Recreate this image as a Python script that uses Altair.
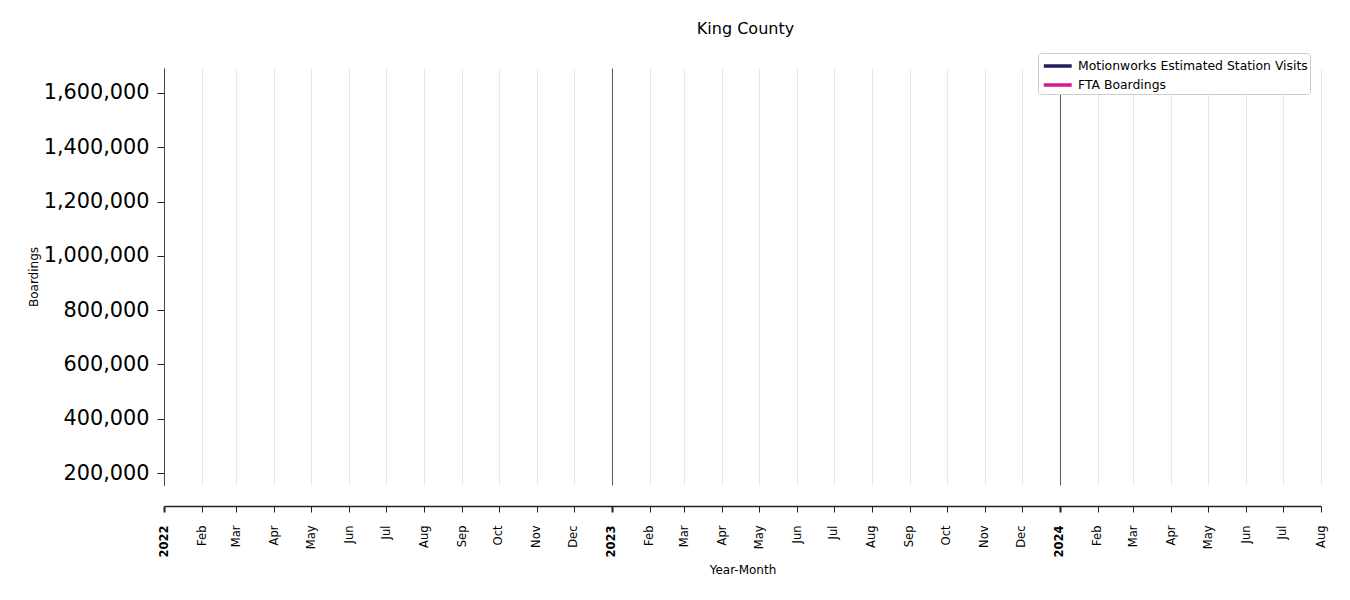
import altair as alt
import pandas as pd

# --- data (no series values are visible in the reference) ---
series_names = ["Motionworks Estimated Station Visits", "FTA Boardings"]
series_colors = ["#1f1f5c", "#d6188a"]
dates = []            # no plotted points visible
motionworks_visits = []
fta_boardings = []

tick_months = [(2022, m) for m in range(1, 13)] + [(2023, m) for m in range(1, 13)] + [(2024, m) for m in range(1, 9)]
y_ticks = [200000, 400000, 600000, 800000, 1000000, 1200000, 1400000, 1600000]
y_domain = [156000, 1692000]

df = pd.DataFrame({
    "date": list(dates) + list(dates),
    "value": list(motionworks_visits) + list(fta_boardings),
    "series": [series_names[0]] * len(dates) + [series_names[1]] * len(dates),
})

font = "DejaVu Sans"
is_year = "utcmonth(datum.value) == 0"

x_axis = alt.Axis(
    values=[alt.DateTime(year=y, month=m, date=1, utc=True) for y, m in tick_months],
    labelExpr="utcmonth(datum.value) == 0 ? utcFormat(datum.value, '%Y') : utcFormat(datum.value, '%b')",
    labelAngle=270,
    labelFontSize=11.5,
    labelFont=font,
    labelColor="black",
    labelPadding=13,
    labelFontWeight={"condition": {"test": is_year, "value": "bold"}, "value": "normal"},
    tickWidth={"condition": {"test": is_year, "value": 2}, "value": 1},
    tickColor="#222",
    tickSize=6,
    domainColor="#222",
    domainWidth=1.5,
    offset=21,
    grid=True,
    gridColor={"condition": {"test": is_year, "value": "#555555"}, "value": "#e8e8e8"},
    gridWidth=1,
    title="Year-Month",
    titleFont=font,
    titleFontSize=12,
    titleFontWeight="normal",
    titleColor="black",
    titlePadding=7,
)

y_axis = alt.Axis(
    values=y_ticks,
    format=",d",
    labelFontSize=20.8,
    labelFont=font,
    labelColor="black",
    labelPadding=8,
    tickSize=7,
    tickColor="#222",
    domainColor="#444",
    grid=False,
    title="Boardings",
    titleFont=font,
    titleFontSize=12,
    titleFontWeight="normal",
    titleColor="black",
    titlePadding=3,
)

chart = alt.Chart(df).mark_line(strokeWidth=2.5).encode(
    x=alt.X("date:T", scale=alt.Scale(type="utc", domain=[alt.DateTime(year=2022, month=1, date=1, utc=True), alt.DateTime(year=2024, month=8, date=1, utc=True)]), axis=x_axis),
    y=alt.Y("value:Q", scale=alt.Scale(domain=y_domain, zero=False, nice=False), axis=y_axis),
    color=alt.Color(
        "series:N",
        scale=alt.Scale(domain=series_names, range=series_colors),
        legend=alt.Legend(
            title=None,
            orient="none",
            legendX=874,
            legendY=-15,
            direction="vertical",
            symbolType="M-0.8,0H2.3",
            symbolSize=324,
            symbolStrokeWidth=3.5,
            symbolFillColor="transparent",
            labelFont=font,
            labelFontSize=12.4,
            labelColor="black",
            labelOffset=16,
            labelLimit=0,
            padding=2,
            rowPadding=1,
            strokeColor="#cccccc",
            fillColor="white",
            cornerRadius=3,
        ),
    ),
).properties(
    width=1157,
    height=417,
    title=alt.TitleParams("King County", font=font, fontSize=16, fontWeight="normal", color="black", anchor="middle", offset=16, dx=3),
    autosize=alt.AutoSizeParams(type="none"),
    padding={"left": 156, "top": 60, "right": 20, "bottom": 110},
).configure_view(stroke=None)

chart.save("out.html", embed_options={"renderer": "svg", "actions": False})
